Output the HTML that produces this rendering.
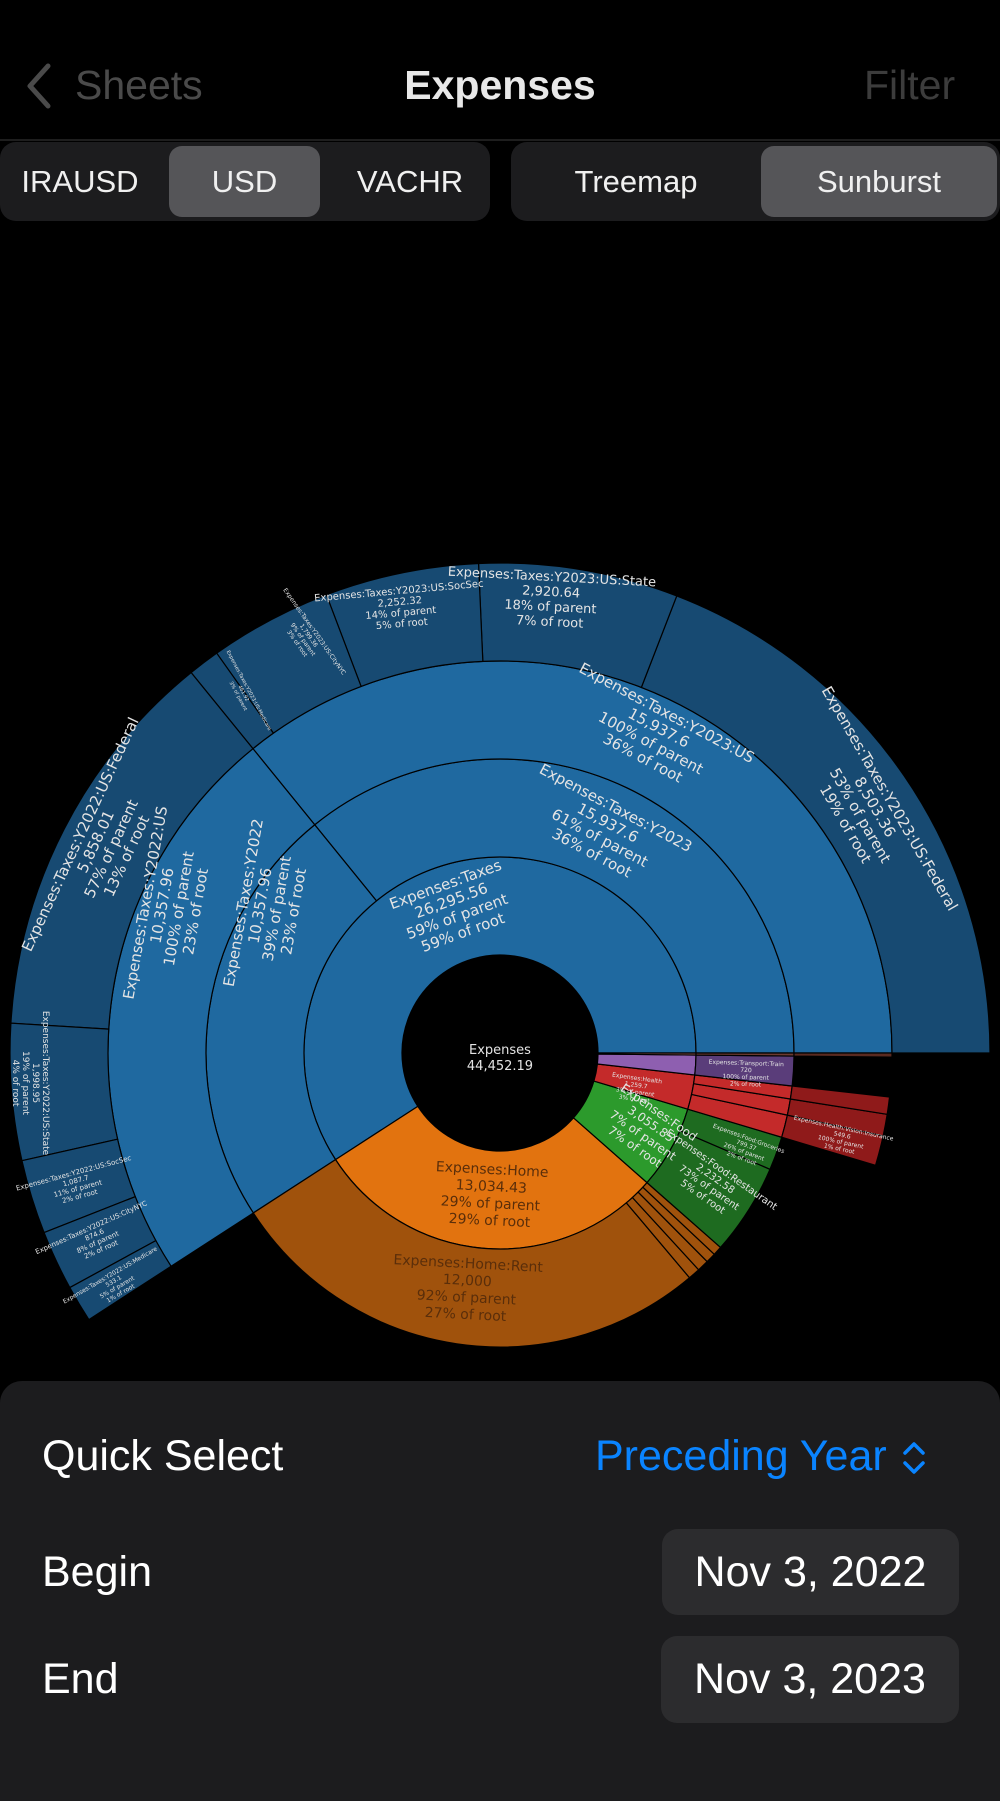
<!DOCTYPE html>
<html><head><meta charset="utf-8">
<style>
html,body{margin:0;padding:0;background:#000;}
body{width:1000px;height:1778px;position:relative;overflow:hidden;font-family:"Liberation Sans",sans-serif;}
.abs{position:absolute;}
.seg{position:absolute;background:#1c1c1e;border-radius:16px;}
.sel{position:absolute;background:#555558;border-radius:13px;}
.st{position:absolute;color:#f0f0f0;font-size:31px;line-height:79px;top:142px;text-align:center;}
.btn{position:absolute;background:#2c2c2e;border-radius:16px;color:#fff;font-size:43px;text-align:center;}
</style></head><body>
<svg class="abs" style="left:22px;top:62px" width="34" height="50"><polyline points="26,4 8,24 26,44" fill="none" stroke="#4a4a4a" stroke-width="5" stroke-linecap="round" stroke-linejoin="round"/></svg>
<div class="abs" style="left:75px;top:62px;font-size:41px;color:#4a4a4a;">Sheets</div>
<div class="abs" style="left:0;width:1000px;top:62px;text-align:center;font-size:41px;font-weight:bold;color:#e8e8e8;">Expenses</div>
<div class="abs" style="left:864px;top:62px;font-size:41px;color:#3c3c3c;">Filter</div>
<div class="abs" style="left:0;top:139px;width:1000px;height:2px;background:#1e1e1e;"></div>

<div class="seg" style="left:0;top:142px;width:490px;height:79px;"></div>
<div class="sel" style="left:169px;top:146px;width:151px;height:71px;"></div>
<div class="st" style="left:0;width:160px;">IRAUSD</div>
<div class="st" style="left:169px;width:151px;">USD</div>
<div class="st" style="left:330px;width:160px;">VACHR</div>
<div class="seg" style="left:511px;top:142px;width:489px;height:79px;"></div>
<div class="sel" style="left:761px;top:146px;width:236px;height:71px;"></div>
<div class="st" style="left:511px;width:250px;">Treemap</div>
<div class="st" style="left:761px;width:236px;">Sunburst</div>

<svg id="sb" class="abs" style="left:0;top:0" width="1000" height="1380">
<g id="arcs"></g>
<g font-family="DejaVu Sans, sans-serif" fill="#e4e4e4" text-anchor="middle">
<text x="500" y="1054" font-size="13"><tspan x="500">Expenses</tspan><tspan x="500" dy="16">44,452.19</tspan></text>
<text transform="translate(454,908) rotate(-20)" font-size="15"><tspan x="0" y="-20">Expenses:Taxes</tspan><tspan x="0" dy="17">26,295.56</tspan><tspan x="0" dy="17">59% of parent</tspan><tspan x="0" dy="17">59% of root</tspan></text>
<text transform="translate(604,830) rotate(28)" font-size="15"><tspan x="0" y="-20">Expenses:Taxes:Y2023</tspan><tspan x="0" dy="17">15,937.6</tspan><tspan x="0" dy="17">61% of parent</tspan><tspan x="0" dy="17">36% of root</tspan></text>
<text transform="translate(655,735) rotate(28)" font-size="15"><tspan x="0" y="-20">Expenses:Taxes:Y2023:US</tspan><tspan x="0" dy="17">15,937.6</tspan><tspan x="0" dy="17">100% of parent</tspan><tspan x="0" dy="17">36% of root</tspan></text>
<text transform="translate(868,811) rotate(60)" font-size="15"><tspan x="0" y="-20">Expenses:Taxes:Y2023:US:Federal</tspan><tspan x="0" dy="17">8,503.36</tspan><tspan x="0" dy="17">53% of parent</tspan><tspan x="0" dy="17">19% of root</tspan></text>
<text transform="translate(551,595) rotate(3)" font-size="13"><tspan x="0" y="-14">Expenses:Taxes:Y2023:US:State</tspan><tspan x="0" dy="15">2,920.64</tspan><tspan x="0" dy="15">18% of parent</tspan><tspan x="0" dy="15">7% of root</tspan></text>
<text transform="translate(400,604) rotate(-5)" font-size="10"><tspan x="0" y="-10">Expenses:Taxes:Y2023:US:SocSec</tspan><tspan x="0" dy="11">2,252.32</tspan><tspan x="0" dy="11">14% of parent</tspan><tspan x="0" dy="11">5% of root</tspan></text>
<text transform="translate(308,636) rotate(55)" font-size="6"><tspan x="0" y="-6">Expenses:Taxes:Y2023:US:CityNYC</tspan><tspan x="0" dy="7">1,799.36</tspan><tspan x="0" dy="7">9% of parent</tspan><tspan x="0" dy="7">3% of root</tspan></text>
<text transform="translate(244,693) rotate(62)" font-size="5"><tspan x="0" y="-4">Expenses:Taxes:Y2023:US:Medicare</tspan><tspan x="0" dy="6">461.92</tspan><tspan x="0" dy="6">3% of parent</tspan></text>
<text transform="translate(268,907) rotate(-80)" font-size="15"><tspan x="0" y="-20">Expenses:Taxes:Y2022</tspan><tspan x="0" dy="17">10,357.96</tspan><tspan x="0" dy="17">39% of parent</tspan><tspan x="0" dy="17">23% of root</tspan></text>
<text transform="translate(170,907) rotate(-80)" font-size="15"><tspan x="0" y="-20">Expenses:Taxes:Y2022:US</tspan><tspan x="0" dy="17">10,357.96</tspan><tspan x="0" dy="17">100% of parent</tspan><tspan x="0" dy="17">23% of root</tspan></text>
<text transform="translate(103,845) rotate(-65)" font-size="15"><tspan x="0" y="-20">Expenses:Taxes:Y2022:US:Federal</tspan><tspan x="0" dy="17">5,858.01</tspan><tspan x="0" dy="17">57% of parent</tspan><tspan x="0" dy="17">13% of root</tspan></text>
<text transform="translate(34,1083) rotate(90)" font-size="9"><tspan x="0" y="-9">Expenses:Taxes:Y2022:US:State</tspan><tspan x="0" dy="10">1,998.95</tspan><tspan x="0" dy="10">19% of parent</tspan><tspan x="0" dy="10">4% of root</tspan></text>
<text transform="translate(76,1182) rotate(-15)" font-size="7"><tspan x="0" y="-7">Expenses:Taxes:Y2022:US:SocSec</tspan><tspan x="0" dy="8">1,087.7</tspan><tspan x="0" dy="8">11% of parent</tspan><tspan x="0" dy="8">2% of root</tspan></text>
<text transform="translate(95,1236) rotate(-24)" font-size="7"><tspan x="0" y="-7">Expenses:Taxes:Y2022:US:CityNYC</tspan><tspan x="0" dy="8">874.6</tspan><tspan x="0" dy="8">8% of parent</tspan><tspan x="0" dy="8">2% of root</tspan></text>
<text transform="translate(114,1282) rotate(-30)" font-size="6"><tspan x="0" y="-6">Expenses:Taxes:Y2022:US:Medicare</tspan><tspan x="0" dy="7">533.1</tspan><tspan x="0" dy="7">5% of parent</tspan><tspan x="0" dy="7">1% of root</tspan></text>
<text transform="translate(648,1128) rotate(35)" font-size="12"><tspan x="0" y="-15">Expenses:Food</tspan><tspan x="0" dy="14">3,055.85</tspan><tspan x="0" dy="14">7% of parent</tspan><tspan x="0" dy="14">7% of root</tspan></text>
<text transform="translate(713,1182) rotate(35)" font-size="10"><tspan x="0" y="-12">Expenses:Food:Restaurant</tspan><tspan x="0" dy="11">2,232.58</tspan><tspan x="0" dy="11">73% of parent</tspan><tspan x="0" dy="11">5% of root</tspan></text>
<text transform="translate(746,1146) rotate(20)" font-size="6"><tspan x="0" y="-6">Expenses:Food:Groceries</tspan><tspan x="0" dy="7">799.37</tspan><tspan x="0" dy="7">26% of parent</tspan><tspan x="0" dy="7">2% of root</tspan></text>
<text transform="translate(636,1086) rotate(8)" font-size="6"><tspan x="0" y="-6">Expenses:Health</tspan><tspan x="0" dy="7">1,259.7</tspan><tspan x="0" dy="7">3% of parent</tspan><tspan x="0" dy="7">3% of root</tspan></text>
<text transform="translate(746,1070) rotate(2)" font-size="6"><tspan x="0" y="-5">Expenses:Transport:Train</tspan><tspan x="0" dy="7">720</tspan><tspan x="0" dy="7">100% of parent</tspan><tspan x="0" dy="7">2% of root</tspan></text>
<text transform="translate(842,1136) rotate(12)" font-size="6"><tspan x="0" y="-6">Expenses:Health:Vision:Insurance</tspan><tspan x="0" dy="7">549.6</tspan><tspan x="0" dy="7">100% of parent</tspan><tspan x="0" dy="7">1% of root</tspan></text>
<g fill="#5a2e0a">
<text transform="translate(491,1192) rotate(3)" font-size="14"><tspan x="0" y="-18">Expenses:Home</tspan><tspan x="0" dy="17">13,034.43</tspan><tspan x="0" dy="17">29% of parent</tspan><tspan x="0" dy="17">29% of root</tspan></text>
<text transform="translate(467,1286) rotate(3)" font-size="14"><tspan x="0" y="-18">Expenses:Home:Rent</tspan><tspan x="0" dy="17">12,000</tspan><tspan x="0" dy="17">92% of parent</tspan><tspan x="0" dy="17">27% of root</tspan></text>
</g>
</g>
</svg>

<div class="abs" style="left:0;top:1381px;width:1000px;height:420px;background:#1c1c1e;border-radius:22px 22px 0 0;"></div>
<div class="abs" style="left:42px;top:1432px;font-size:43px;color:#fff;">Quick Select</div>
<div class="abs" style="left:595px;top:1432px;font-size:43px;color:#0a84ff;">Preceding Year</div>
<svg class="abs" style="left:898px;top:1438px" width="32" height="40"><polyline points="7,15 16,6 25,15" fill="none" stroke="#0a84ff" stroke-width="3.5" stroke-linecap="round" stroke-linejoin="round"/><polyline points="7,25 16,34 25,25" fill="none" stroke="#0a84ff" stroke-width="3.5" stroke-linecap="round" stroke-linejoin="round"/></svg>
<div class="abs" style="left:42px;top:1548px;font-size:43px;color:#fff;">Begin</div>
<div class="btn" style="left:662px;top:1529px;width:297px;height:86px;line-height:86px;">Nov 3, 2022</div>
<div class="abs" style="left:42px;top:1655px;font-size:43px;color:#fff;">End</div>
<div class="btn" style="left:661px;top:1636px;width:298px;height:87px;line-height:87px;">Nov 3, 2023</div>

<script>
(function(){
var cx=500,cy=1053,R=[98,196,294,392,490];
var B='#1f69a0',D='#174a72',O='#e2730f',O2='#a0520c',G='#2c9a2c',G2='#1e6b20',Rd='#c42a2a',Rd3='#8f1a1a',P='#8e5fb0',P2='#5a3d7a';
var S=[
[0,0,212.96,B],[0,212.96,318.6,O],[0,318.6,343.35,G],[0,343.35,353.55,Rd],[0,353.55,359.4,P],[0,359.4,360,'#8c564b'],
[1,0,129.07,B],[1,129.07,212.96,B],[1,212.96,310.14,O2],[1,310.14,312.5,O2],[1,312.5,314.8,O2],[1,314.8,316.8,O2],[1,316.8,318.6,O2],
[1,318.6,336.7,G2],[1,336.7,343.35,G2],[1,343.35,347.8,Rd],[1,347.8,351,Rd],[1,351,353.55,Rd],[1,353.55,359.4,P2],[1,359.4,360,'#6b3a30'],
[2,0,129.07,B],[2,129.07,212.96,B],[2,343.35,347.8,Rd3],[2,347.8,351,Rd3],[2,351,353.55,Rd3],[2,359.4,360,'#5a2a20'],
[3,0,68.86,D],[3,68.86,92.51,D],[3,92.51,110.75,D],[3,110.75,125.32,D],[3,125.32,129.07,D],
[3,129.07,176.51,D],[3,176.51,192.7,D],[3,192.7,201.5,D],[3,201.5,208.6,D],[3,208.6,212.96,D]
];
function p(r,a){a=a*Math.PI/180;return (cx+r*Math.cos(a)).toFixed(2)+','+(cy-r*Math.sin(a)).toFixed(2);}
var h='';
S.forEach(function(s){var r0=R[s[0]],r1=R[s[0]+1],a0=s[1],a1=s[2],lg=(a1-a0)>180?1:0;
h+='<path d="M'+p(r0,a0)+' L'+p(r1,a0)+' A'+r1+','+r1+' 0 '+lg+' 0 '+p(r1,a1)+' L'+p(r0,a1)+' A'+r0+','+r0+' 0 '+lg+' 1 '+p(r0,a0)+'Z" fill="'+s[3]+'" stroke="#000" stroke-width="1.2"/>';});
document.getElementById('arcs').innerHTML=h;
})();
</script>
</body></html>
